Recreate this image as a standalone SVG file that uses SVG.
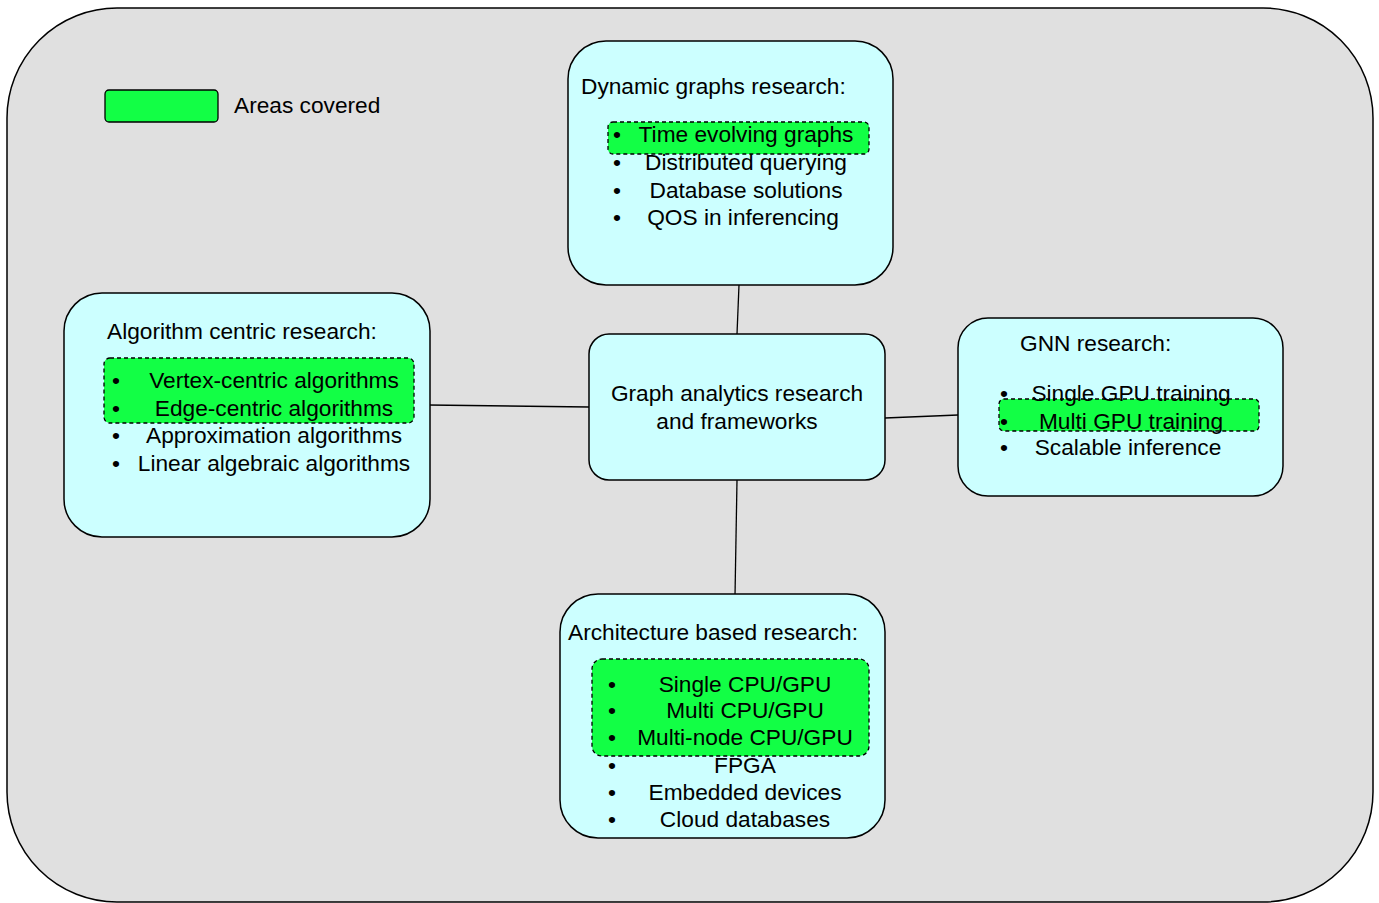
<svg xmlns="http://www.w3.org/2000/svg" width="1379" height="903" viewBox="0 0 1379 903">
<style>
.node{fill:#ccffff;stroke:#000;stroke-width:1.5}
.hl{fill:#12ff45;stroke:#000;stroke-width:1.3;stroke-dasharray:4 3}
text{font-family:"Liberation Sans",Arial,sans-serif;font-size:22.7px;fill:#000}
.c{text-anchor:middle}
.conn{stroke:#000;stroke-width:1.3;fill:none}
</style>
<rect x="7" y="8" width="1366" height="894" rx="110" ry="110" fill="#e0e0e0" stroke="#000" stroke-width="1.5"/>
<g id="legend">
<rect x="105" y="90" width="113" height="32" rx="4" fill="#12ff45" stroke="#000" stroke-width="1.3"/>
<text x="234" y="113">Areas covered</text>
</g>
<g id="connectors">
<line class="conn" x1="739" y1="285" x2="737" y2="334"/>
<line class="conn" x1="428" y1="405" x2="589" y2="407"/>
<line class="conn" x1="885" y1="418" x2="958" y2="415"/>
<line class="conn" x1="737" y1="480" x2="735" y2="596"/>
</g>
<g id="center">
<rect class="node" x="589" y="334" width="296" height="146" rx="20"/>
<text class="c" x="737" y="401">Graph analytics research</text>
<text class="c" x="737" y="429">and frameworks</text>
</g>
<g id="dynamic">
<rect class="node" x="568" y="41" width="325" height="244" rx="38"/>
<text x="581" y="94">Dynamic graphs research:</text>
<rect class="hl" x="608" y="122" width="261" height="32" rx="5"/>
<text x="613" y="142">•</text><text class="c" x="746" y="142">Time evolving graphs</text>
<text x="613" y="170">•</text><text class="c" x="746" y="170">Distributed querying</text>
<text x="613" y="198">•</text><text class="c" x="746" y="198">Database solutions</text>
<text x="613" y="225">•</text><text class="c" x="743" y="225">QOS in inferencing</text>
</g>
<g id="algorithm">
<rect class="node" x="64" y="293" width="366" height="244" rx="38"/>
<text x="107" y="339">Algorithm centric research:</text>
<rect class="hl" x="104" y="358" width="310" height="65" rx="6"/>
<text x="112" y="388">•</text><text class="c" x="274" y="388">Vertex-centric algorithms</text>
<text x="112" y="416">•</text><text class="c" x="274" y="416">Edge-centric algorithms</text>
<text x="112" y="443">•</text><text class="c" x="274" y="443">Approximation algorithms</text>
<text x="112" y="471">•</text><text class="c" x="274" y="471">Linear algebraic algorithms</text>
</g>
<g id="gnn">
<rect class="node" x="958" y="318" width="325" height="178" rx="30"/>
<text x="1020" y="351">GNN research:</text>
<rect class="hl" x="999" y="399" width="260" height="32" rx="5"/>
<text x="1000" y="401">•</text><text class="c" x="1131" y="401">Single GPU training</text>
<text x="1000" y="429">•</text><text class="c" x="1131" y="429">Multi GPU training</text>
<text x="1000" y="455">•</text><text class="c" x="1128" y="455">Scalable inference</text>
</g>
<g id="architecture">
<rect class="node" x="560" y="594" width="325" height="244" rx="38"/>
<text x="568" y="640">Architecture based research:</text>
<rect class="hl" x="592" y="659" width="277" height="97" rx="10"/>
<text x="608" y="692">•</text><text class="c" x="745" y="692">Single CPU/GPU</text>
<text x="608" y="718">•</text><text class="c" x="745" y="718">Multi CPU/GPU</text>
<text x="608" y="745">•</text><text class="c" x="745" y="745">Multi-node CPU/GPU</text>
<text x="608" y="773">•</text><text class="c" x="745" y="773">FPGA</text>
<text x="608" y="800">•</text><text class="c" x="745" y="800">Embedded devices</text>
<text x="608" y="827">•</text><text class="c" x="745" y="827">Cloud databases</text>
</g>
</svg>
